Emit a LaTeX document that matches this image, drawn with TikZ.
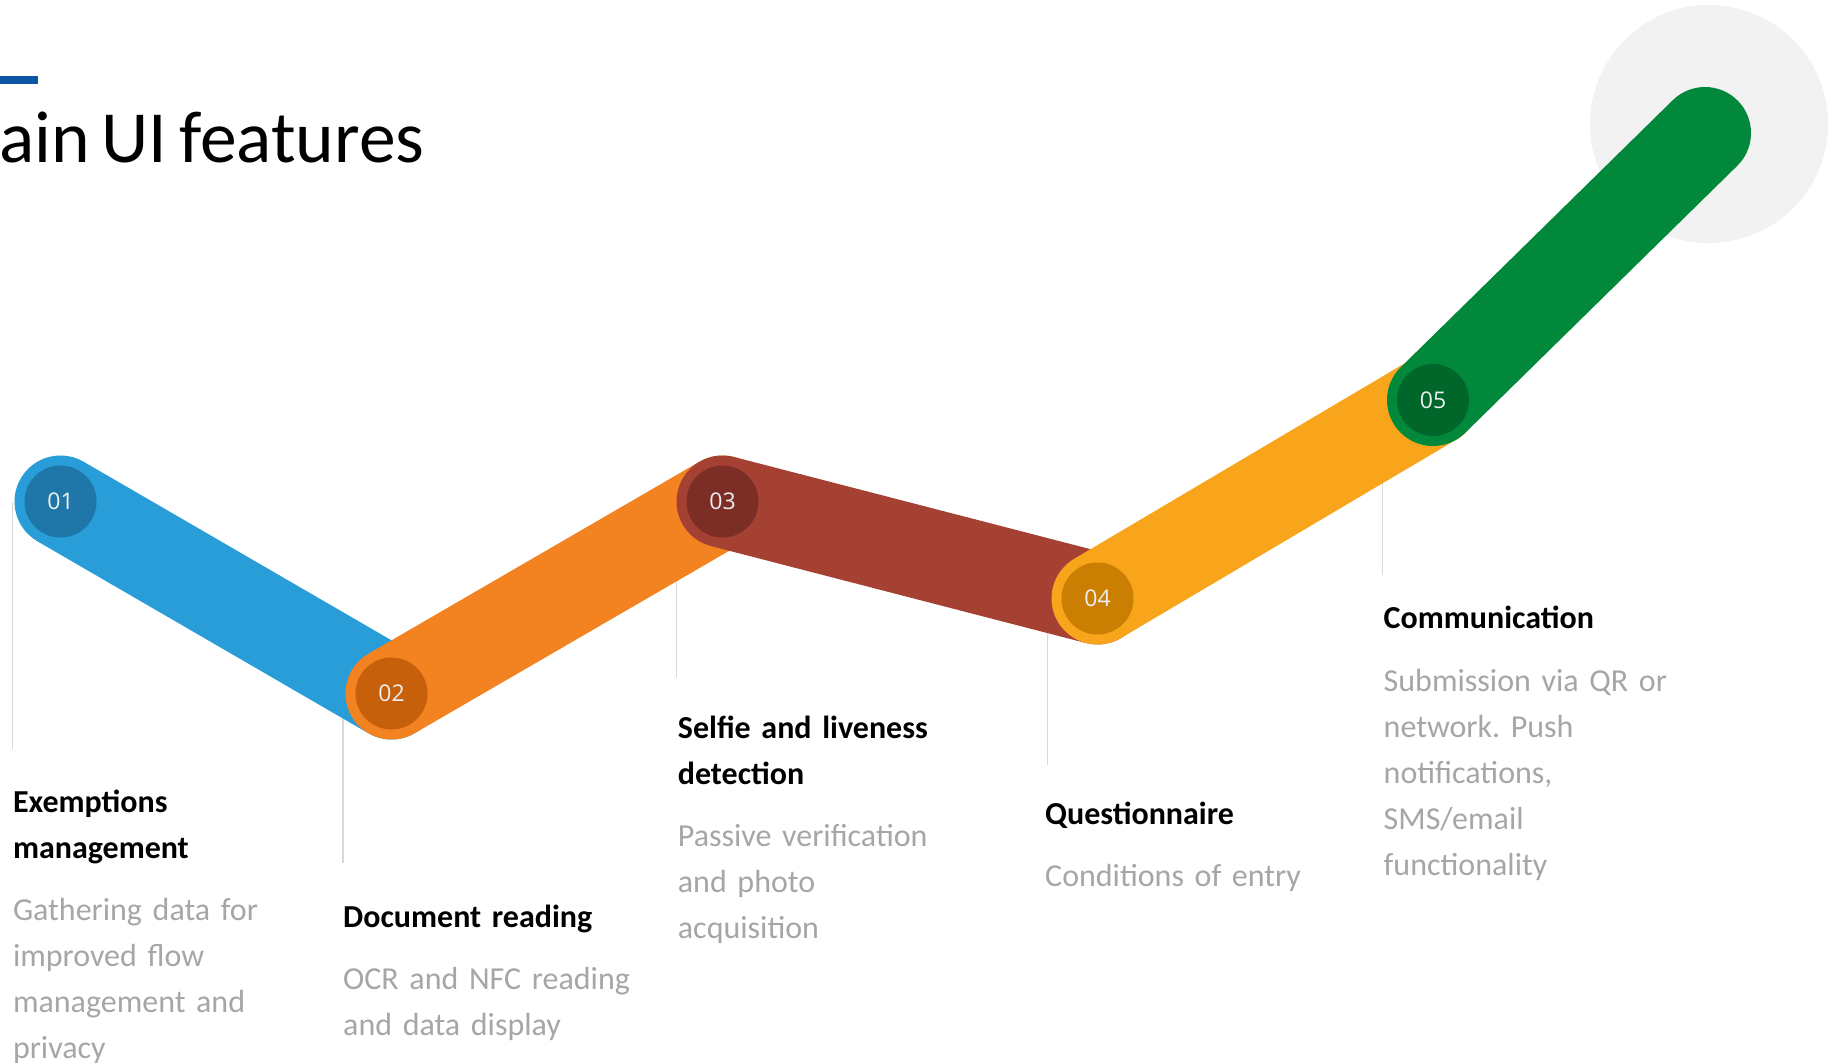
\documentclass[tikz,border=0pt]{standalone}
\usepackage{fontspec}
\setmainfont{Carlito}
\newfontfamily\txtfont{Carlito}[WordSpace=0.7]
\newfontfamily\numfont{Open Sans}
\definecolor{barblue}{HTML}{0B56A7}
\definecolor{glow}{HTML}{F2F2F2}
\definecolor{vline}{HTML}{D9D9D9}
\definecolor{bodygray}{HTML}{A6A6A6}
\definecolor{numc}{HTML}{EEEEEE}
\definecolor{bandA}{HTML}{289DD8}
\definecolor{dotA}{HTML}{1E77A8}
\definecolor{bandB}{HTML}{F38220}
\definecolor{dotB}{HTML}{C7600B}
\definecolor{bandC}{HTML}{A54133}
\definecolor{dotC}{HTML}{7C2D25}
\definecolor{bandD}{HTML}{F8A51C}
\definecolor{dotD}{HTML}{CB7F02}
\definecolor{bandE}{HTML}{01883B}
\definecolor{dotE}{HTML}{006629}
\frenchspacing
\newcommand\mytitlesp{\spaceskip=12pt plus 1pt\relax}
\tikzset{
  band/.style={line width=92pt, line cap=round, draw=#1},
  dot/.style={circle, fill=#1, minimum size=72pt, inner sep=0pt, text=numc,
    font=\numfont\fontsize{23}{27}\selectfont},
  guide/.style={draw=vline, line width=1.5pt},
  head/.style={anchor=base west, inner sep=0pt, text width=330pt,
    font=\txtfont\bfseries\fontsize{32}{46}\selectfont, text=black},
  body/.style={anchor=base west, inner sep=0pt, text width=330pt,
    font=\txtfont\fontsize{32}{46}\selectfont, text=bodygray}
}
\begin{document}
\begin{tikzpicture}[x=1pt,y=-1pt]
\useasboundingbox (0,0) rectangle (1829,1063);
\clip (0,0) rectangle (1829,1063);
% title
\fill[barblue] (0,76) rectangle (38,84);
\node[anchor=base west, inner sep=0pt, font=\fontsize{73.5}{88}\selectfont\mytitlesp] (title) at (-1,162) {ain UI features};
% glow circle
\fill[glow] (1709,124) circle[radius=119];
% positions
\coordinate (p1) at (60.5,501.5);
\coordinate (p2) at (391.5,693.5);
\coordinate (p3) at (722.5,501.5);
\coordinate (p4) at (1097.5,598.5);
\coordinate (p5) at (1433,400);
\coordinate (pe) at (1705,133);
% guide lines
\coordinate (g1) at (12.7,749);
\coordinate (g2) at (343,863);
\coordinate (g3) at (676.6,678);
\coordinate (g4) at (1047.5,765);
\coordinate (g5) at (1382.3,575);
\draw[guide] (g1 |- p1) -- (g1);
\draw[guide] (g2 |- p2) -- (g2);
\draw[guide] (g3 |- p3) -- (g3);
\draw[guide] (g4 |- p4) -- (g4);
\draw[guide] (g5 |- p5) -- (g5);
% bands and dots
\draw[band=bandA] (p1) -- (p2);
\node[dot=dotA] (c1) at (p1) {01};
\draw[band=bandB] (p2) -- (p3);
\node[dot=dotB] (c2) at (p2) {02};
\draw[band=bandC] (p3) -- (p4);
\node[dot=dotC] (c3) at (p3) {03};
\draw[band=bandD] (p4) -- (p5);
\node[dot=dotD] (c4) at (p4) {04};
\draw[band=bandE] (p5) -- (pe);
\node[dot=dotE] (c5) at (p5) {05};
% texts
\node[head] (h1) at (12.8,812.5) {Exemptions\\management};
\node[body] (b1) at (12.8,920) {Gathering data for\\improved flow\\management and\\privacy};
\node[head] (h2) at (343,927) {Document reading};
\node[body] (b2) at (343,989) {OCR and NFC reading\\and data display};
\node[head] (h3) at (677.7,738) {Selfie and liveness\\detection};
\node[body] (b3) at (677.7,846.5) {Passive verification\\and photo\\acquisition};
\node[head] (h4) at (1045,824.4) {Questionnaire};
\node[body] (b4) at (1045,886) {Conditions of entry};
\node[head] (h5) at (1383.5,628.4) {Communication};
\node[body] (b5) at (1383.5,691.4) {Submission via QR or\\network. Push\\notifications,\\SMS/email\\functionality};
\end{tikzpicture}
\end{document}
